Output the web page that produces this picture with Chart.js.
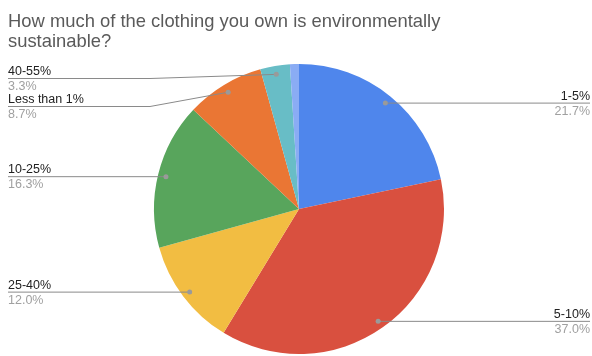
<!DOCTYPE html>
<html lang="en">
<head>
    <meta charset="UTF-8">
    <title>Clothing sustainability</title>
    <script src="https://cdn.jsdelivr.net/npm/chart.js"></script>
    <style>
        body { margin: 0; background: #fff; }
        #wrap { position: relative; width: 592px; height: 356px; }
    </style>
</head>
<body>
    <div id="wrap"><canvas id="pieChart"></canvas></div>

    <script>
        const titleLines = ['How much of the clothing you own is environmentally', 'sustainable?'];
        const categories = ['1-5%', '5-10%', '25-40%', '10-25%', 'Less than 1%', '40-55%', 'More than 55%'];
        const shares = [21.7, 37.0, 12.0, 16.3, 8.7, 3.3, 1.0];
        const shareLabels = ['21.7%', '37.0%', '12.0%', '16.3%', '8.7%', '3.3%', ''];
        const colors = ['#4f86ec', '#d9503f', '#f2bd42', '#58a55c', '#ea7634', '#68bdc6', '#8aacf4'];

        const FONT = '"Liberation Sans", Arial, sans-serif';

        // title + leader-line labels, drawn like the sheets export
        const labelPlugin = {
            id: 'sheetLabels',
            afterDraw(chart) {
                const ctx = chart.ctx;
                ctx.save();
                ctx.fillStyle = '#5a5a5a';
                ctx.font = '18.4px ' + FONT;
                ctx.textAlign = 'left';
                ctx.fillText(titleLines[0], 8, 27);
                ctx.fillText(titleLines[1], 8, 47);

                const arcs = chart.getDatasetMeta(0).data;
                const left = [], right = [];
                arcs.forEach((arc, i) => {
                    if (!shareLabels[i]) return;
                    const p = arc.getProps(['x', 'y', 'startAngle', 'endAngle', 'outerRadius'], true);
                    const mid = (p.startAngle + p.endAngle) / 2;
                    const r = p.outerRadius * 0.945;
                    const item = {
                        i,
                        dx: p.x + Math.cos(mid) * r,
                        dy: p.y + Math.sin(mid) * r,
                        edge: Math.cos(mid) < 0 ? p.x - p.outerRadius - 4 : p.x + p.outerRadius + 4
                    };
                    (Math.cos(mid) < 0 ? left : right).push(item);
                });

                [left, right].forEach((side, s) => {
                    side.sort((a, b) => a.dy - b.dy);
                    let prev = -Infinity;
                    side.forEach(it => {
                        it.ly = Math.max(it.dy, 78, prev + 28);
                        prev = it.ly;
                        const tx = s === 0 ? 8 : 590;
                        ctx.strokeStyle = '#8a8a8a';
                        ctx.lineWidth = 1;
                        ctx.beginPath();
                        ctx.moveTo(tx, it.ly + 0.5);
                        if (Math.abs(it.ly - it.dy) > 1) {
                            ctx.lineTo(it.edge, it.ly + 0.5);
                        }
                        ctx.lineTo(it.dx, it.dy + 0.5);
                        ctx.stroke();
                        ctx.fillStyle = '#9a9a9a';
                        ctx.beginPath();
                        ctx.arc(it.dx, it.dy + 0.5, 2.5, 0, Math.PI * 2);
                        ctx.fill();

                        ctx.textAlign = s === 0 ? 'left' : 'right';
                        ctx.font = '12.5px ' + FONT;
                        ctx.fillStyle = '#222';
                        ctx.fillText(categories[it.i], tx, it.ly - 3);
                        ctx.fillStyle = '#a0a0a0';
                        ctx.fillText(shareLabels[it.i], tx, it.ly + 12);
                    });
                });
                ctx.restore();
            }
        };

        new Chart(document.getElementById('pieChart'), {
            type: 'pie',
            data: {
                labels: categories,
                datasets: [{
                    data: shares,
                    backgroundColor: colors,
                    borderWidth: 0
                }]
            },
            options: {
                responsive: true,
                maintainAspectRatio: false,
                animation: false,
                layout: { padding: { top: 64, bottom: 2, left: 154, right: 148 } },
                plugins: {
                    legend: { display: false },
                    tooltip: { enabled: false }
                }
            },
            plugins: [labelPlugin]
        });
    </script>
</body>
</html>
